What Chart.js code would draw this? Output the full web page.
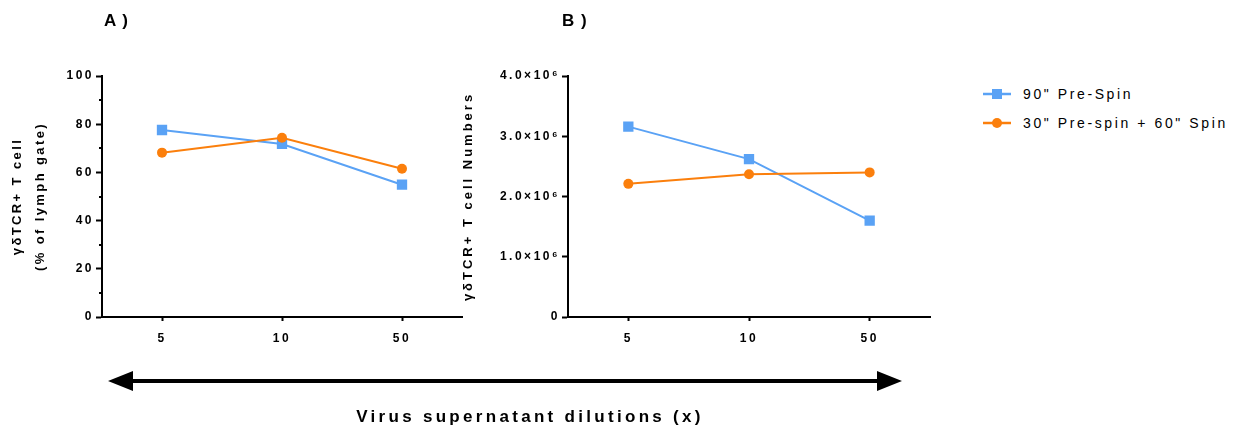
<!DOCTYPE html>
<html>
<head>
<meta charset="utf-8">
<script src="https://cdn.jsdelivr.net/npm/chart.js@4.4.1/dist/chart.umd.min.js"></script>
<style>
body { margin: 0; background: #fff; font-family: "Liberation Sans", Arial, sans-serif; }
#wrap { position: relative; width: 1241px; height: 431px; overflow: hidden; }
canvas { position: absolute; top: 0; }
#chartA { left: 0; }
#chartB { left: 440px; }
.panel { position: absolute; top: 11px; font-weight: bold; font-size: 17px; letter-spacing: 1px; }
#legend { position: absolute; left: 983px; top: 85px; font-size: 14px; letter-spacing: 2.6px; }
.row { height: 29px; display: flex; align-items: flex-start; }
.row svg { margin-right: 12px; }
#xtitle { position: absolute; left: 0; width: 1060px; text-align: center; top: 407px; font-weight: bold; font-size: 17px; letter-spacing: 3.3px; }
#arrow { position: absolute; left: 0; top: 0; }
</style>
</head>
<body>
<div id="wrap">
  <canvas id="chartA" width="480" height="345"></canvas>
  <canvas id="chartB" width="510" height="345"></canvas>
  <div class="panel" style="left:104px">A )</div>
  <div class="panel" style="left:562px">B )</div>
  <div id="legend"></div>
  <svg id="arrow" width="1241" height="431">
    <line x1="125" y1="381" x2="885" y2="381" stroke="#000" stroke-width="4"/>
    <polygon points="108,381 133,371 133,391" fill="#000"/>
    <polygon points="902,381 877,371 877,391" fill="#000"/>
  </svg>
  <div id="xtitle">Virus supernatant dilutions (x)</div>
</div>
<script>
const dilutions = ['5', '10', '50'];
const seriesNames = ['90" Pre-Spin', '30" Pre-spin + 60" Spin'];
const seriesColors = ['#5aa2f5', '#fb7f0c'];

// A) % of lymph gate
const percentPreSpin = [77.6, 71.8, 54.9];
const percentSpin = [68.2, 74.4, 61.5];
const percentMinorTicks = [10, 30, 50, 70, 90];

// B) cell numbers
const numbersPreSpin = [3.16e6, 2.62e6, 1.60e6];
const numbersSpin = [2.21e6, 2.37e6, 2.40e6];
const numberTickLabels = ['0', '1.0×10⁶', '2.0×10⁶', '3.0×10⁶', '4.0×10⁶'];

const fontFamily = '"Liberation Sans", Arial, sans-serif';

// canvas letter spacing (ticks vs axis title)
const spacing = {
    id: 'spacing',
    beforeLayout(chart, args, opts) { chart.ctx.letterSpacing = opts.ticks; },
    beforeDraw(chart, args, opts) {
        chart.ctx.letterSpacing = opts.ticks;
        const y = chart.scales.y;
        if (!y._spaced) {
            const draw = y.drawTitle.bind(y);
            y.drawTitle = () => {
                chart.ctx.letterSpacing = opts.title;
                draw();
                chart.ctx.letterSpacing = opts.ticks;
            };
            y._spaced = true;
        }
    }
};

const minorTicks = {
    id: 'minorTicks',
    afterDraw(chart, args, opts) {
        if (!opts.values) return;
        const y = chart.scales.y;
        const ctx = chart.ctx;
        ctx.save();
        ctx.strokeStyle = '#000';
        ctx.lineWidth = 2;
        opts.values.forEach(v => {
            const py = Math.round(y.getPixelForValue(v));
            ctx.beginPath();
            ctx.moveTo(y.right - 3, py);
            ctx.lineTo(y.right, py);
            ctx.stroke();
        });
        ctx.restore();
    }
};

function makeDatasets(a, b) {
    return [{
        label: seriesNames[0],
        data: a,
        borderColor: seriesColors[0],
        backgroundColor: seriesColors[0],
        borderWidth: 2,
        pointStyle: 'rect',
        pointRadius: 7.3,
        pointBorderWidth: 0,
        order: 2
    }, {
        label: seriesNames[1],
        data: b,
        borderColor: seriesColors[1],
        backgroundColor: seriesColors[1],
        borderWidth: 2,
        pointStyle: 'circle',
        pointRadius: 5,
        pointBorderWidth: 0,
        order: 1
    }];
}

function makeOptions(yWidth, rightPad, yScale, titleText, titlePad, titleSpacing, minor) {
    return {
        responsive: false,
        animation: false,
        layout: { padding: { top: 76, right: rightPad, left: 0, bottom: 0 } },
        plugins: {
            legend: { display: false },
            tooltip: { enabled: false },
            spacing: { ticks: '2.5px', title: titleSpacing },
            minorTicks: { values: minor }
        },
        scales: {
            x: {
                type: 'category',
                offset: true,
                afterFit: s => { s.height = 28; },
                border: { color: '#000', width: 2 },
                grid: { drawOnChartArea: false, offset: false, color: '#000', tickLength: 4, tickWidth: 2 },
                ticks: { color: '#000', padding: 10, font: { family: fontFamily, size: 12, weight: 'bold' } }
            },
            y: Object.assign({
                afterFit: s => { s.width = yWidth; },
                border: { color: '#000', width: 2 },
                grid: { drawOnChartArea: false, color: '#000', tickLength: 6, tickWidth: 2 },
                title: {
                    display: true,
                    text: titleText,
                    color: '#000',
                    padding: { top: titlePad, bottom: 0 },
                    font: { family: fontFamily, size: 13, weight: 'bold', lineHeight: 1.77 }
                }
            }, yScale)
        }
    };
}

new Chart(document.getElementById('chartA'), {
    type: 'line',
    data: { labels: dilutions, datasets: makeDatasets(percentPreSpin, percentSpin) },
    options: makeOptions(102, 18, {
        min: 0, max: 100,
        ticks: { stepSize: 20, color: '#000', padding: 2, font: { family: fontFamily, size: 12, weight: 'bold' } }
    }, ['γδTCR+ T cell', '(% of lymph gate)'], 5.5, '2.4px', percentMinorTicks),
    plugins: [spacing, minorTicks]
});

new Chart(document.getElementById('chartB'), {
    type: 'line',
    data: { labels: dilutions, datasets: makeDatasets(numbersPreSpin, numbersSpin) },
    options: makeOptions(128, 20, {
        min: 0, max: 4e6,
        ticks: {
            stepSize: 1e6, color: '#000', padding: 2,
            font: { family: fontFamily, size: 12, weight: 'bold' },
            callback: (v, i) => numberTickLabels[i]
        }
    }, 'γδTCR+ T cell Numbers', 16.5, '3px', null),
    plugins: [spacing, minorTicks]
});

// legend
const legend = document.getElementById('legend');
seriesNames.forEach((name, i) => {
    const marker = i === 0
        ? '<rect x="9" y="4" width="10" height="10" fill="' + seriesColors[i] + '"/>'
        : '<circle cx="14" cy="9" r="5" fill="' + seriesColors[i] + '"/>';
    const row = document.createElement('div');
    row.className = 'row';
    row.innerHTML = '<svg width="28" height="18"><line x1="0" y1="9" x2="28" y2="9" stroke="' +
        seriesColors[i] + '" stroke-width="2.5"/>' + marker + '</svg><span style="line-height:18px">' + name + '</span>';
    legend.appendChild(row);
});
</script>
</body>
</html>
